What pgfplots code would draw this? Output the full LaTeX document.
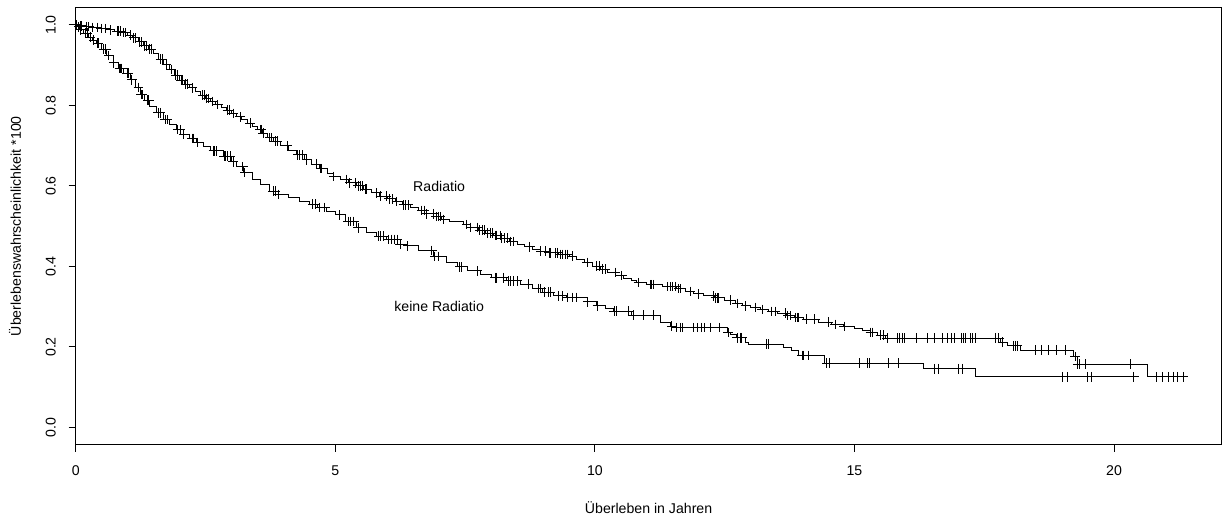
\documentclass[border=0pt]{standalone}
\usepackage{pgfplots}
\pgfplotsset{compat=1.18}
\usepackage{pgfplotstable}
\usepackage{fontspec}
\setmainfont{Liberation Sans}

% Radiatio: t = time (years), s = survival after t, c = 1 censored
\pgfplotstableread{
t s c
0.00 1.000 0
0.02 1.000 1
0.05 0.998 0
0.09 0.998 1
0.12 0.998 1
0.15 0.996 0
0.20 0.996 1
0.25 0.996 1
0.30 0.994 0
0.33 0.994 1
0.41 0.994 1
0.45 0.991 0
0.49 0.991 1
0.57 0.991 1
0.60 0.988 0
0.67 0.988 1
0.75 0.985 0
0.80 0.985 1
0.83 0.985 1
0.86 0.985 1
0.90 0.981 0
0.92 0.981 1
0.96 0.981 1
1.00 0.975 0
1.05 0.975 1
1.10 0.968 0
1.12 0.968 1
1.15 0.968 1
1.20 0.958 0
1.23 0.958 1
1.26 0.958 1
1.30 0.948 0
1.33 0.948 1
1.36 0.948 1
1.40 0.940 0
1.43 0.940 1
1.46 0.940 1
1.50 0.929 0
1.60 0.915 0
1.63 0.915 1
1.67 0.915 1
1.70 0.902 0
1.75 0.902 1
1.80 0.889 0
1.84 0.889 1
1.90 0.875 0
1.93 0.875 1
1.97 0.875 1
2.00 0.862 0
2.03 0.862 1
2.06 0.862 1
2.10 0.853 0
2.12 0.853 1
2.15 0.853 1
2.20 0.844 0
2.24 0.844 1
2.30 0.835 0
2.40 0.826 0
2.45 0.826 1
2.48 0.826 1
2.50 0.817 0
2.52 0.817 1
2.55 0.817 1
2.60 0.810 0
2.63 0.810 1
2.70 0.802 0
2.74 0.802 1
2.80 0.795 0
2.90 0.788 0
2.92 0.788 1
2.96 0.788 1
3.00 0.780 0
3.03 0.780 1
3.10 0.772 0
3.17 0.772 1
3.20 0.764 0
3.30 0.756 0
3.36 0.756 1
3.40 0.748 0
3.50 0.740 0
3.55 0.740 1
3.58 0.740 1
3.60 0.731 0
3.61 0.731 1
3.70 0.720 0
3.74 0.720 1
3.78 0.720 1
3.80 0.711 0
3.84 0.711 1
3.88 0.711 1
3.95 0.700 0
4.07 0.700 1
4.10 0.688 0
4.25 0.677 0
4.28 0.677 1
4.32 0.677 1
4.36 0.677 1
4.40 0.665 0
4.45 0.665 1
4.55 0.654 0
4.64 0.654 1
4.70 0.643 0
4.72 0.643 1
4.74 0.643 1
4.85 0.632 0
4.96 0.624 0
4.97 0.624 1
5.10 0.616 0
5.22 0.616 1
5.25 0.608 0
5.28 0.608 1
5.38 0.608 1
5.40 0.600 0
5.44 0.600 1
5.48 0.600 1
5.52 0.600 1
5.55 0.592 0
5.58 0.592 1
5.61 0.592 1
5.70 0.583 0
5.80 0.583 1
5.86 0.575 0
5.87 0.575 1
5.99 0.575 1
6.00 0.568 0
6.04 0.568 1
6.10 0.568 1
6.15 0.561 0
6.18 0.561 1
6.30 0.553 0
6.31 0.553 1
6.36 0.553 1
6.41 0.553 1
6.45 0.546 0
6.60 0.539 0
6.67 0.539 1
6.72 0.539 1
6.75 0.531 0
6.76 0.531 1
6.89 0.531 1
6.90 0.524 0
6.94 0.524 1
6.98 0.524 1
7.03 0.524 1
7.05 0.517 0
7.08 0.517 1
7.20 0.511 0
7.46 0.504 0
7.53 0.504 1
7.60 0.497 0
7.61 0.497 1
7.73 0.497 1
7.75 0.490 0
7.78 0.490 1
7.83 0.490 1
7.88 0.490 1
7.90 0.483 0
7.93 0.483 1
7.98 0.483 1
8.02 0.483 1
8.05 0.477 0
8.08 0.477 1
8.11 0.477 1
8.18 0.477 1
8.20 0.470 0
8.21 0.470 1
8.26 0.470 1
8.31 0.470 1
8.35 0.462 0
8.38 0.462 1
8.43 0.462 1
8.50 0.455 0
8.65 0.449 0
8.75 0.449 1
8.80 0.443 0
8.95 0.438 0
8.96 0.438 1
9.04 0.438 1
9.10 0.434 0
9.12 0.434 1
9.14 0.434 1
9.24 0.434 1
9.28 0.434 1
9.30 0.430 0
9.33 0.430 1
9.38 0.430 1
9.43 0.430 1
9.48 0.430 1
9.52 0.426 0
9.56 0.426 1
9.65 0.418 0
9.80 0.410 0
9.85 0.410 1
9.95 0.401 0
10.04 0.401 1
10.08 0.401 1
10.10 0.393 0
10.14 0.393 1
10.20 0.393 1
10.25 0.385 0
10.39 0.385 1
10.40 0.378 0
10.52 0.378 1
10.55 0.371 0
10.70 0.365 0
10.81 0.360 0
10.84 0.360 1
11.00 0.355 0
11.07 0.355 1
11.10 0.355 1
11.12 0.355 1
11.30 0.350 0
11.39 0.350 1
11.45 0.350 1
11.50 0.350 1
11.55 0.350 1
11.58 0.345 0
11.62 0.345 1
11.65 0.345 1
11.75 0.338 0
11.84 0.338 1
11.90 0.332 0
12.00 0.332 1
12.09 0.327 0
12.28 0.327 1
12.30 0.322 0
12.32 0.322 1
12.36 0.322 1
12.38 0.322 1
12.50 0.316 0
12.61 0.316 1
12.70 0.308 0
12.74 0.308 1
12.85 0.302 0
12.90 0.302 1
12.99 0.298 0
13.09 0.298 1
13.20 0.293 0
13.22 0.293 1
13.35 0.288 0
13.41 0.288 1
13.47 0.288 1
13.51 0.284 0
13.67 0.284 1
13.70 0.278 0
13.72 0.278 1
13.76 0.278 1
13.85 0.273 0
13.86 0.273 1
13.90 0.273 1
13.92 0.273 1
14.02 0.269 0
14.08 0.269 1
14.24 0.269 1
14.30 0.262 0
14.50 0.262 1
14.55 0.256 0
14.63 0.256 1
14.79 0.251 0
14.80 0.251 1
15.00 0.245 0
15.15 0.240 0
15.30 0.236 0
15.31 0.236 1
15.34 0.236 1
15.45 0.229 0
15.50 0.229 1
15.56 0.229 1
15.60 0.222 0
15.63 0.222 1
15.83 0.222 1
15.87 0.222 1
15.92 0.222 1
15.96 0.222 1
16.20 0.222 1
16.40 0.222 1
16.54 0.222 1
16.70 0.222 1
16.79 0.222 1
16.86 0.222 1
16.93 0.222 1
17.07 0.222 1
17.10 0.222 1
17.14 0.222 1
17.23 0.222 1
17.28 0.222 1
17.33 0.222 1
17.71 0.222 1
17.78 0.222 1
17.81 0.212 0
17.85 0.212 1
17.95 0.203 0
18.07 0.203 1
18.10 0.203 1
18.14 0.203 1
18.20 0.192 0
18.48 0.192 1
18.61 0.192 1
18.73 0.192 1
18.90 0.192 1
19.06 0.192 1
19.22 0.176 0
19.25 0.176 1
19.29 0.157 0
19.30 0.157 1
19.33 0.157 1
19.45 0.157 1
20.31 0.157 1
20.65 0.126 0
20.81 0.126 1
20.94 0.126 1
21.04 0.126 1
21.14 0.126 1
21.23 0.126 1
21.33 0.126 1
}\radiatio

% keine Radiatio
\pgfplotstableread{
t s c
0.00 1.000 0
0.03 0.995 0
0.06 0.995 1
0.08 0.988 0
0.10 0.988 1
0.15 0.980 0
0.18 0.980 1
0.22 0.980 1
0.25 0.970 0
0.28 0.970 1
0.33 0.962 0
0.35 0.962 1
0.40 0.955 0
0.42 0.955 1
0.44 0.955 1
0.50 0.940 0
0.54 0.940 1
0.58 0.940 1
0.60 0.924 0
0.64 0.924 1
0.72 0.906 0
0.73 0.906 1
0.82 0.892 0
0.84 0.892 1
0.87 0.892 1
0.89 0.892 1
0.92 0.880 0
0.99 0.880 1
1.02 0.880 1
1.05 0.864 0
1.08 0.864 1
1.15 0.845 0
1.21 0.845 1
1.24 0.827 0
1.26 0.827 1
1.28 0.827 1
1.33 0.813 0
1.39 0.813 1
1.41 0.813 1
1.43 0.798 0
1.55 0.782 0
1.59 0.782 1
1.63 0.782 1
1.69 0.765 0
1.72 0.765 1
1.76 0.765 1
1.80 0.753 0
1.95 0.740 0
1.97 0.740 1
2.02 0.740 1
2.07 0.728 0
2.08 0.728 1
2.20 0.718 0
2.24 0.718 1
2.27 0.718 1
2.33 0.708 0
2.34 0.708 1
2.46 0.699 0
2.60 0.687 0
2.65 0.687 1
2.68 0.687 1
2.72 0.687 1
2.84 0.674 0
2.86 0.674 1
2.88 0.674 1
2.92 0.674 1
2.98 0.674 1
3.00 0.660 0
3.03 0.660 1
3.10 0.648 0
3.22 0.648 1
3.23 0.633 0
3.26 0.633 1
3.40 0.617 0
3.55 0.603 0
3.74 0.587 0
3.80 0.587 1
3.84 0.587 1
3.90 0.579 0
3.91 0.579 1
4.10 0.571 0
4.32 0.562 0
4.50 0.555 0
4.57 0.555 1
4.62 0.555 1
4.65 0.547 0
4.70 0.547 1
4.80 0.547 1
4.84 0.537 0
5.00 0.528 0
5.09 0.528 1
5.20 0.512 0
5.25 0.512 1
5.30 0.512 1
5.36 0.512 1
5.41 0.496 0
5.44 0.496 1
5.60 0.485 0
5.80 0.475 0
5.84 0.475 1
5.88 0.475 1
5.92 0.475 1
5.99 0.467 0
6.02 0.467 1
6.08 0.467 1
6.14 0.467 1
6.19 0.467 1
6.20 0.455 0
6.25 0.455 1
6.38 0.451 0
6.40 0.451 1
6.60 0.440 0
6.86 0.440 1
6.90 0.425 0
6.92 0.425 1
6.99 0.425 1
7.15 0.409 0
7.35 0.399 0
7.40 0.399 1
7.44 0.399 1
7.55 0.389 0
7.73 0.389 1
7.79 0.380 0
8.00 0.372 0
8.08 0.372 1
8.11 0.372 1
8.24 0.372 1
8.30 0.364 0
8.33 0.364 1
8.38 0.364 1
8.44 0.364 1
8.50 0.364 1
8.56 0.356 0
8.72 0.356 1
8.80 0.345 0
8.91 0.345 1
8.96 0.345 1
9.00 0.336 0
9.03 0.336 1
9.10 0.336 1
9.14 0.336 1
9.20 0.327 0
9.30 0.327 1
9.38 0.327 1
9.45 0.323 0
9.48 0.323 1
9.56 0.323 1
9.65 0.323 1
9.85 0.312 0
9.86 0.312 1
10.04 0.302 0
10.05 0.302 1
10.20 0.295 0
10.36 0.289 0
10.37 0.289 1
10.42 0.289 1
10.65 0.289 1
10.70 0.279 0
10.74 0.279 1
10.94 0.279 1
11.13 0.279 1
11.26 0.261 0
11.45 0.252 0
11.48 0.252 1
11.55 0.248 0
11.58 0.248 1
11.64 0.248 1
11.68 0.248 1
11.90 0.248 1
11.98 0.248 1
12.05 0.248 1
12.12 0.248 1
12.22 0.248 1
12.41 0.248 1
12.56 0.236 0
12.57 0.236 1
12.61 0.232 0
12.72 0.223 0
12.74 0.223 1
12.80 0.223 1
12.83 0.223 1
12.90 0.211 0
12.95 0.207 0
13.31 0.207 1
13.34 0.207 1
13.63 0.198 0
13.78 0.190 0
13.92 0.179 0
13.99 0.179 1
14.02 0.179 1
14.12 0.179 1
14.42 0.160 0
14.47 0.160 1
14.51 0.160 1
15.09 0.160 1
15.25 0.160 1
15.29 0.160 1
15.66 0.160 1
15.85 0.160 1
16.33 0.146 0
16.54 0.146 1
16.62 0.146 1
17.00 0.146 1
17.08 0.146 1
17.33 0.126 0
19.01 0.126 1
19.11 0.126 1
19.48 0.126 1
19.56 0.126 1
20.38 0.126 1
}\keine

\begin{document}
\begin{tikzpicture}
\useasboundingbox (-56.8pt,-54pt) rectangle (860.5pt,333.75pt);
\begin{axis}[
  at={(0pt,0pt)}, anchor=south west,
  scale only axis, width=859.35pt, height=328.3pt,
  xmin=0, xmax=22.07, ymin=-0.0435, ymax=1.044,
  axis line style={black, line width=0.75pt},
  every tick/.style={black, line width=0.75pt},
  tick align=outside, major tick length=5.25pt,
  xtick pos=lower, ytick pos=left,
  xtick={0,5,10,15,20}, xticklabels={0,5,10,15,20},
  ytick={0,0.2,0.4,0.6,0.8,1.0}, yticklabels={0.0,0.2,0.4,0.6,0.8,1.0},
  ticklabel style={font=\fontsize{10.6}{12}\selectfont, text=black},
  xticklabel style={anchor=center, yshift=-14.25pt},
  yticklabel style={anchor=center, xshift=-13.45pt, rotate=90},
  label style={font=\fontsize{10.6}{12}\selectfont, text=black},
  xlabel={Überleben in Jahren},
  xlabel style={at={(axis description cs:0.5,0)}, anchor=center, yshift=-47.25pt},
  ylabel={Überlebenswahrscheinlichkeit *100},
  ylabel style={at={([xshift=-45.5pt]axis description cs:0,0.5)}, anchor=center},
  clip=true,
]
\addplot[const plot, no marks, black, line width=0.75pt] table[x=t, y=s] {\radiatio};
\addplot[const plot, no marks, black, line width=0.75pt] table[x=t, y=s] {\keine};
\addplot[only marks, mark=+, mark size=3.6pt, black, mark options={line width=0.75pt},
  restrict expr to domain={\thisrow{c}}{1:1}] table[x=t, y=s] {\radiatio};
\addplot[only marks, mark=+, mark size=3.6pt, black, mark options={line width=0.75pt},
  restrict expr to domain={\thisrow{c}}{1:1}] table[x=t, y=s] {\keine};
\node[font=\fontsize{10.6}{12}\selectfont] at (axis cs:7,0.6) {Radiatio};
\node[font=\fontsize{10.6}{12}\selectfont] at (axis cs:7,0.3) {keine Radiatio};
\end{axis}
\end{tikzpicture}
\end{document}
